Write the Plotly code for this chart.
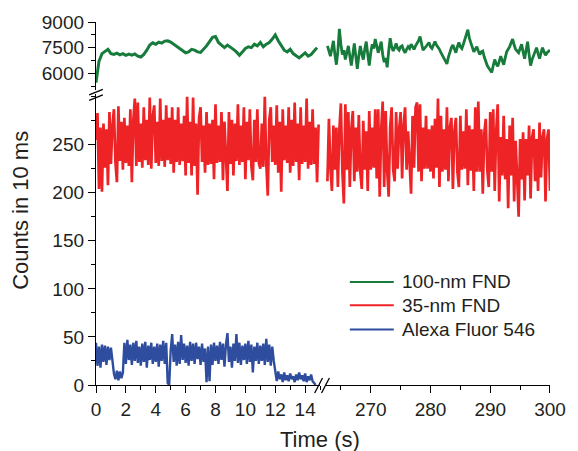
import plotly.graph_objects as go

# ---------------- data ----------------
# 35-nm FND, 0 - 14.9 s, every 0.1 s
RED_LEFT = [255, 283, 204, 268, 201, 272, 226, 266, 208, 284, 230, 270, 287, 232, 211, 290, 233, 274, 224, 278,
            231, 270, 228, 287, 211, 276, 298, 228, 294, 232, 272, 226, 289, 234, 276, 229, 299, 225, 280, 291,
            231, 274, 228, 298, 233, 276, 227, 291, 234, 278, 230, 289, 221, 276, 232, 289, 229, 272, 233, 280,
            218, 300, 231, 274, 218, 299, 228, 272, 198, 278, 289, 232, 270, 221, 284, 229, 272, 230, 276, 214,
            292, 231, 270, 232, 284, 213, 274, 227, 202, 284, 230, 276, 218, 272, 233, 292, 229, 270, 232, 289,
            214, 274, 234, 287, 228, 213, 276, 232, 287, 231, 225, 272, 227, 300, 230, 197, 276, 289, 232, 270,
            229, 291, 221, 274, 201, 287, 234, 270, 231, 289, 221, 276, 228, 294, 232, 272, 213, 289, 230, 270,
            232, 298, 225, 274, 229, 287, 230, 268, 211, 271]
# 35-nm FND, 262.75 - 300 s, every 0.25 s
RED_RIGHT = [212, 277, 226, 202, 270, 224, 268, 206, 266, 293, 222, 189, 292, 224, 284, 206, 266, 285, 212, 268,
             222, 281, 222, 204, 275, 224, 264, 202, 285, 224, 268, 226, 287, 215, 287, 196, 266, 295, 206, 285,
             223, 196, 268, 289, 224, 212, 284, 225, 266, 284, 215, 270, 289, 224, 264, 222, 199, 280, 226, 289,
             294, 222, 292, 212, 268, 225, 280, 225, 266, 222, 270, 215, 277, 226, 298, 206, 280, 222, 266, 224,
             289, 212, 268, 278, 204, 264, 278, 222, 206, 280, 224, 264, 225, 287, 208, 270, 223, 266, 202, 289,
             222, 295, 222, 266, 199, 262, 277, 224, 206, 284, 222, 287, 202, 264, 292, 191, 258, 218, 280, 214,
             256, 184, 270, 218, 278, 191, 254, 216, 175, 256, 214, 263, 192, 256, 218, 270, 194, 258, 266, 212,
             256, 202, 273, 216, 258, 266, 191, 256, 266, 202]
# 100-nm FND, 0 - 14.8 s, every 0.2 s
GREEN_LEFT = [5450, 6700, 7150, 7300, 7400, 7150, 7100, 7180, 7080, 7150, 7050, 7120, 7060, 7130, 7000, 6950,
              7100, 7350, 7650, 7780, 7700, 7820, 7760, 7880, 7900, 7820, 7700, 7550, 7480, 7350, 7200, 7250,
              7400, 7350, 7250, 7220, 7400, 7600, 7850, 8100, 8150, 7800, 7650, 7500, 7650, 7550, 7400, 7250,
              7050, 7250, 7450, 7550, 7500, 7700, 7600, 7800, 7550, 7700, 7800, 8000, 8250, 7900, 7650, 7350,
              7250, 7400, 7150, 7000, 6900, 7050, 7200, 7000, 7100, 7300, 7500]
# 100-nm FND, 262.75 - 300 s, every 0.25 s
GREEN_RIGHT = [7600, 7250, 7000, 7450, 7900, 7100, 6500, 7300, 8600, 7700, 7100, 7350, 6800, 7200, 7600, 7000,
               6450, 7100, 7750, 7000, 6250, 7000, 7600, 7150, 6800, 7400, 7850, 7100, 6450, 7200, 7700, 7450,
               8000, 7600, 7200, 7500, 7850, 7100, 6650, 6900, 6350, 7300, 8050, 7550, 7300, 7500, 7750, 7450,
               7350, 7550, 7600, 7350, 7200, 7400, 7550, 7450, 7700, 7550, 7400, 7600, 7750, 7900, 8150, 7650,
               7350, 7450, 7550, 7650, 7800, 7550, 7450, 7650, 7850, 7650, 7550, 7400, 7200, 7050, 6850, 6700,
               6550, 6950, 7250, 7500, 7650, 7400, 7200, 7550, 7800, 7550, 7450, 7700, 8000, 8300, 8550, 8050,
               7800, 7500, 7250, 7400, 7550, 7300, 7100, 7250, 7300, 6950, 6650, 6450, 6300, 6200, 6050, 6450,
               6800, 6550, 6400, 6700, 7000, 6750, 6500, 6900, 7250, 7400, 7550, 7800, 8000, 7650, 7400, 7300,
               7200, 7450, 7700, 7250, 6850, 7350, 7850, 7100, 6450, 6800, 7050, 7300, 7500, 7150, 6850, 7200,
               7500, 7250, 7050, 7200, 7300, 7350]
# Alexa Fluor 546, 0 - 14.7 s, every 0.1 s
BLUE_LEFT = [44, 20, 40, 18, 42, 24, 41, 21, 40, 26, 39, 22, 12, 6, 15, 5, 14, 7, 13, 44,
             22, 47, 26, 42, 21, 44, 25, 46, 23, 40, 20, 43, 24, 45, 18, 41, 26, 44, 22, 40,
             24, 43, 19, 42, 25, 46, 22, 44, 2, 0, 36, 53, 24, 42, 20, 45, 22, 52, 26, 43,
             23, 41, 20, 45, 25, 43, 22, 44, 27, 40, 21, 43, 24, 38, 3, 40, 4, 42, 21, 44,
             25, 41, 22, 45, 26, 43, 19, 42, 54, 24, 40, 18, 43, 25, 53, 23, 44, 21, 41, 26,
             43, 22, 46, 24, 42, 13, 40, 25, 44, 22, 41, 25, 43, 21, 48, 24, 42, 20, 40, 25,
             12, 4, 14, 6, 11, 3, 13, 5, 10, 4, 12, 6, 9, 3, 11, 5, 13, 6, 10, 4,
             12, 3, 9, 5, 11, 4, 2, 0]

RED_LEFT_T0, RED_LEFT_DT = 0.0, 0.1
RED_RIGHT_T0, RED_RIGHT_DT = 262.75, 0.25
GREEN_LEFT_T0, GREEN_LEFT_DT = 0.0, 0.2
GREEN_RIGHT_T0, GREEN_RIGHT_DT = 262.75, 0.25
BLUE_LEFT_T0, BLUE_LEFT_DT = 0.0, 0.1

SERIES_NAMES = ["100-nm FND", "35-nm FND", "Alexa Fluor 546"]
X_LEFT_TICKS = [0, 2, 4, 6, 8, 10, 12, 14]
X_RIGHT_TICKS = [270, 280, 290, 300]
Y_BOTTOM_TICKS = [0, 50, 100, 150, 200, 250]
Y_TOP_TICKS = [6000, 7500, 9000]


def times(t0, dt, n):
    return [round(t0 + dt * i, 3) for i in range(n)]


GREEN = "#167B3B"
RED = "#EE2326"
BLUE = "#2E4D9F"
TXT = "#231F20"
FONT = "Liberation Sans, Arial, sans-serif"

fig = go.Figure()
fig.add_trace(go.Scatter(x=times(RED_LEFT_T0, RED_LEFT_DT, len(RED_LEFT)), y=RED_LEFT, mode="lines",
                         line=dict(color=RED, width=2.7), xaxis="x", yaxis="y", showlegend=False))
fig.add_trace(go.Scatter(x=times(RED_RIGHT_T0, RED_RIGHT_DT, len(RED_RIGHT)), y=RED_RIGHT, mode="lines",
                         line=dict(color=RED, width=2.7), xaxis="x2", yaxis="y", showlegend=False))
fig.add_trace(go.Scatter(x=times(BLUE_LEFT_T0, BLUE_LEFT_DT, len(BLUE_LEFT)), y=BLUE_LEFT, mode="lines",
                         line=dict(color=BLUE, width=2.4), xaxis="x", yaxis="y", showlegend=False))
fig.add_trace(go.Scatter(x=times(GREEN_LEFT_T0, GREEN_LEFT_DT, len(GREEN_LEFT)), y=GREEN_LEFT, mode="lines",
                         line=dict(color=GREEN, width=3), xaxis="x3", yaxis="y2", showlegend=False))
fig.add_trace(go.Scatter(x=times(GREEN_RIGHT_T0, GREEN_RIGHT_DT, len(GREEN_RIGHT)), y=GREEN_RIGHT, mode="lines",
                         line=dict(color=GREEN, width=2.8), xaxis="x4", yaxis="y2", showlegend=False))

W, H = 578, 451
L, R, T, B = 96, 17, 21, 66
PW, PH = W - L - R, H - T - B


def px(x):
    return (x - L) / PW


def py(y):
    return (H - B - y) / PH


XL_DOM = [0, px(325.5)]
XR_DOM = [px(331.5), 1]
YB_DOM = [0, py(93)]
YT_DOM = [py(89.5), 1]

axis_common = dict(showgrid=False, zeroline=False, showline=True, linecolor="black", linewidth=1.3,
                   ticks="outside", ticklen=7, tickwidth=1.3, tickcolor="black",
                   tickfont=dict(family=FONT, size=19, color=TXT))
minor_common = dict(ticks="outside", ticklen=4, tickwidth=1.3, tickcolor="black", showgrid=False)

fig.update_layout(
    width=W, height=H, margin=dict(l=L, r=R, t=T, b=B),
    paper_bgcolor="white", plot_bgcolor="white", showlegend=False,
    xaxis=dict(domain=XL_DOM, range=[0, 15], anchor="y", tickmode="array", tickvals=X_LEFT_TICKS,
               minor=dict(dtick=1, tick0=0, **minor_common), **axis_common),
    xaxis2=dict(domain=XR_DOM, range=[262.5, 300], anchor="y", tickmode="array", tickvals=X_RIGHT_TICKS,
                minor=dict(dtick=5, tick0=0, **minor_common), **axis_common),
    xaxis3=dict(domain=XL_DOM, range=[0, 15], anchor="y2", visible=False),
    xaxis4=dict(domain=XR_DOM, range=[262.5, 300], anchor="y2", visible=False),
    yaxis=dict(domain=YB_DOM, range=[0, 303], anchor="x", tickmode="array", tickvals=Y_BOTTOM_TICKS,
               minor=dict(dtick=25, tick0=0, **minor_common), **axis_common),
    yaxis2=dict(domain=YT_DOM, range=[5000, 9000], anchor="x3", tickmode="array", tickvals=Y_TOP_TICKS,
                minor=dict(dtick=750, tick0=0, **minor_common), **axis_common),
)

shapes = []
# axis break marks
for (x0, y0, x1, y1) in [(89, 94, 103, 88.5), (89, 99.5, 103, 94),
                         (320, 393, 328, 378), (327, 393, 335, 378)]:
    shapes.append(dict(type="line", xref="paper", yref="paper", x0=px(x0), y0=py(y0), x1=px(x1), y1=py(y1),
                       line=dict(color="black", width=1.3)))
# legend
leg_rows = [281.7, 305, 329.3]
for name, color, yrow in zip(SERIES_NAMES, [GREEN, RED, BLUE], leg_rows):
    shapes.append(dict(type="line", xref="paper", yref="paper", x0=px(356), x1=px(401), y0=py(yrow), y1=py(yrow),
                       line=dict(color=color, width=2)))
    fig.add_annotation(xref="paper", yref="paper", x=px(407), y=py(yrow), text=name, showarrow=False,
                       xanchor="left", yanchor="middle", font=dict(family=FONT, size=19, color=TXT))
fig.update_layout(shapes=shapes)

fig.add_annotation(xref="paper", yref="paper", x=px(325.5), y=py(440), text="Time (s)", showarrow=False,
                   xanchor="center", yanchor="middle", font=dict(family=FONT, size=22, color=TXT))
fig.add_annotation(xref="paper", yref="paper", x=px(18.5), y=py(210), text="Counts in 10 ms", showarrow=False,
                   textangle=-90, xanchor="center", yanchor="middle", font=dict(family=FONT, size=22, color=TXT))

fig.write_html("out.html")
